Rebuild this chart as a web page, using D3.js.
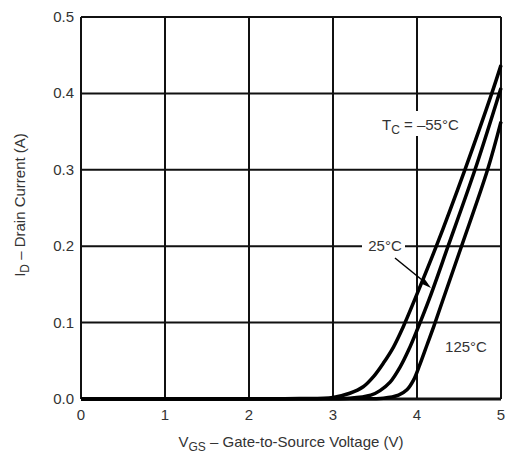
<!DOCTYPE html>
<html>
<head>
<meta charset="utf-8">
<script src="https://cdn.jsdelivr.net/npm/d3@7"></script>
<style>
  body { margin: 0; background: #fff; }
  text { font-family: "Liberation Sans", Arial, sans-serif; fill: #333; }
</style>
</head>
<body>
<svg id="chart" width="510" height="456"></svg>
<script>
const width = 510, height = 456;
const margin = { left: 81, right: 9, top: 17, bottom: 57 };

// curves: gate voltage (V) vs drain current (A)
const vM55 = [0, 2.0, 2.6, 3.0, 3.2, 3.36, 3.48, 3.60, 3.72, 3.83, 3.98, 4.23, 4.57, 4.89, 5.0];
const iM55 = [0, 0.0002, 0.0006, 0.002, 0.0075, 0.016, 0.029, 0.047, 0.068, 0.093, 0.132, 0.2, 0.3, 0.4, 0.437];
const v25 = [0, 2.6, 3.2, 3.45, 3.56, 3.68, 3.80, 3.90, 4.00, 4.15, 4.37, 4.69, 4.98, 5.0];
const i25 = [0, 0.0002, 0.001, 0.005, 0.011, 0.022, 0.042, 0.064, 0.09, 0.132, 0.2, 0.3, 0.4, 0.407];
const v125 = [0, 3.2, 3.6, 3.78, 3.88, 3.96, 4.03, 4.12, 4.20, 4.30, 4.53, 4.84, 5.0];
const i125 = [0, 0.0002, 0.001, 0.005, 0.012, 0.025, 0.044, 0.071, 0.095, 0.127, 0.2, 0.3, 0.363];

const xTicks = [0, 1, 2, 3, 4, 5];
const yTicks = [0, 0.1, 0.2, 0.3, 0.4, 0.5];

const svg = d3.select("#chart");

const x = d3.scaleLinear().domain([0, 5]).range([margin.left, width - margin.right]);
const y = d3.scaleLinear().domain([0, 0.5]).range([height - margin.bottom, margin.top]);
const midX = (x(0) + x(5)) / 2;

// grid
svg.append("g")
    .selectAll("line")
    .data(xTicks)
    .join("line")
    .attr("x1", d => x(d)).attr("x2", d => x(d))
    .attr("y1", y(0)).attr("y2", y(0.5))
    .attr("stroke", "#111").attr("stroke-width", 2);

svg.append("g")
    .selectAll("line")
    .data(yTicks)
    .join("line")
    .attr("x1", x(0)).attr("x2", x(5))
    .attr("y1", d => y(d)).attr("y2", d => y(d))
    .attr("stroke", "#111").attr("stroke-width", d => d === 0 ? 3 : 2);

// tick labels
svg.append("g")
    .selectAll("text")
    .data(xTicks)
    .join("text")
    .attr("x", d => x(d))
    .attr("y", y(0) + 21)
    .attr("text-anchor", "middle")
    .attr("font-size", 15)
    .text(d => d);

svg.append("g")
    .selectAll("text")
    .data(yTicks)
    .join("text")
    .attr("x", x(0) - 7)
    .attr("y", d => y(d) + 5)
    .attr("text-anchor", "end")
    .attr("font-size", 15)
    .text(d => d.toFixed(1));

// curves
const line = d3.line()
    .x(d => x(d[0]))
    .y(d => y(Math.max(0, d[1])))
    .curve(d3.curveCatmullRom.alpha(0.5));

const series = [d3.zip(vM55, iM55), d3.zip(v25, i25), d3.zip(v125, i125)];

svg.append("g")
    .selectAll("path")
    .data(series)
    .join("path")
    .attr("d", line)
    .attr("fill", "none")
    .attr("stroke", "#000")
    .attr("stroke-width", 3.5)
    .attr("stroke-linejoin", "round");

// labels, white backing breaks the grid behind them
function backing(x0, y0, x1, y1) {
    svg.append("rect")
        .attr("x", x0).attr("y", y0)
        .attr("width", x1 - x0).attr("height", y1 - y0)
        .attr("fill", "#fff");
}

backing(377, 111, 467, 136);
const tc = svg.append("text")
    .attr("x", 382).attr("y", 130)
    .attr("font-size", 15);
tc.append("tspan").text("T");
tc.append("tspan").attr("font-size", 12).attr("dy", 4).text("C");
tc.append("tspan").attr("dy", -4).text(" = \u201355\u00B0C");

backing(362, 238, 405, 254);
svg.append("text")
    .attr("x", 385).attr("y", 251)
    .attr("text-anchor", "middle")
    .attr("font-size", 15)
    .text("25\u00B0C");

svg.append("line")
    .attr("x1", 395).attr("y1", 258)
    .attr("x2", 427).attr("y2", 284)
    .attr("stroke", "#000").attr("stroke-width", 1.5);
svg.append("path")
    .attr("d", "M431,288 L420,283 L424,278 Z")
    .attr("fill", "#000");

svg.append("text")
    .attr("x", 466).attr("y", 352)
    .attr("text-anchor", "middle")
    .attr("font-size", 15)
    .text("125\u00B0C");

// axis titles
const xt = svg.append("text")
    .attr("x", midX).attr("y", 447)
    .attr("text-anchor", "middle")
    .attr("font-size", 15);
xt.append("tspan").text("V");
xt.append("tspan").attr("font-size", 12).attr("dy", 4).text("GS");
xt.append("tspan").attr("dy", -4).text(" \u2013 Gate-to-Source Voltage (V)");

const yt = svg.append("text")
    .attr("transform", "translate(25,205) rotate(-90)")
    .attr("text-anchor", "middle")
    .attr("font-size", 15);
yt.append("tspan").text("I");
yt.append("tspan").attr("font-size", 12).attr("dy", 4).text("D");
yt.append("tspan").attr("dy", -4).text(" \u2013 Drain Current (A)");
</script>
</body>
</html>
